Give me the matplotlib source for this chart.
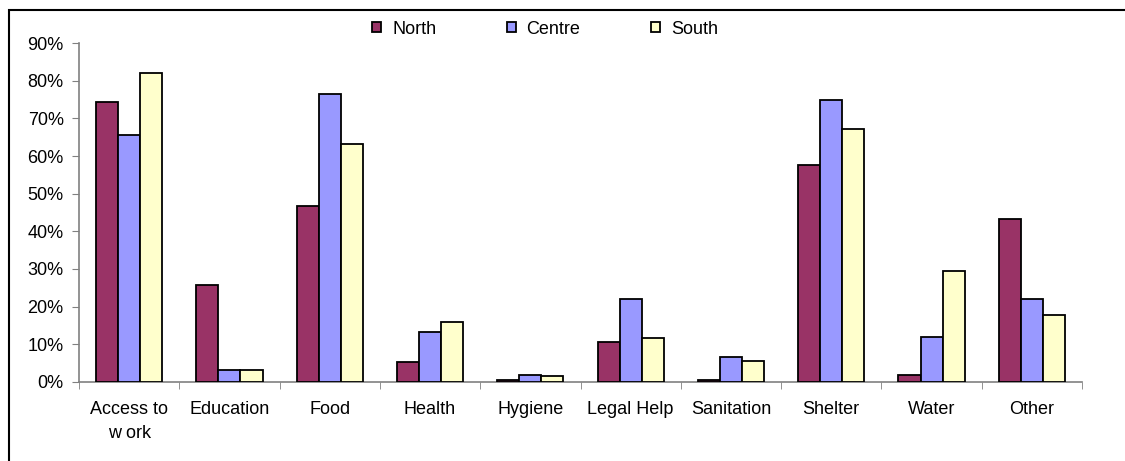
import numpy as np
import matplotlib.pyplot as plt
from matplotlib.patches import Rectangle
from matplotlib.ticker import PercentFormatter

plt.rcParams['font.family'] = ['Liberation Sans', 'DejaVu Sans']

# Datos
categorias = ["Access to\nw ork", "Education", "Food", "Health", "Hygiene",
              "Legal Help", "Sanitation", "Shelter", "Water", "Other"]
north = [74.3, 25.7, 46.8, 5.4, 0.5, 10.7, 0.4, 57.5, 1.9, 43.3]
centre = [65.7, 3.2, 76.4, 13.4, 1.9, 22.1, 6.7, 75.0, 11.9, 22.1]
south = [82.1, 3.2, 63.1, 16.0, 1.5, 11.7, 5.5, 67.2, 29.6, 17.8]

series = [("North", north, "#993366"),
          ("Centre", centre, "#9999FF"),
          ("South", south, "#FFFFCC")]

fig = plt.figure(figsize=(11.25, 4.61), dpi=100)
ax = fig.add_axes([0.0702, 0.1714, 0.8916, 0.7353])

x = np.arange(len(categorias))
ancho = 0.22
for i, (nombre, valores, color) in enumerate(series):
    ax.bar(x + (i - 1) * ancho, np.array(valores) / 100, ancho, color=color,
           edgecolor="black", linewidth=1.3, label=nombre, zorder=3)

ax.set_xlim(-0.5, len(categorias) - 0.5)
ax.set_ylim(0, 0.9)
ax.set_yticks(np.arange(0, 0.91, 0.1))
ax.yaxis.set_major_formatter(PercentFormatter(1.0, decimals=0))
ax.set_xticks(x)
ax.set_xticklabels(categorias, fontsize=13, linespacing=1.5)
ax.set_xticks(np.arange(-0.5, len(categorias)), minor=True)
ax.tick_params(axis="x", which="major", length=0, pad=14)
ax.tick_params(axis="x", which="minor", length=5, color="#808080", direction="out")
ax.tick_params(axis="y", length=5, color="#808080", labelsize=13, pad=6)

for s in ["top", "right"]:
    ax.spines[s].set_visible(False)
for s in ["left", "bottom"]:
    ax.spines[s].set_color("#808080")
    ax.spines[s].set_linewidth(1.2)

fig.legend(loc="center", bbox_to_anchor=(545 / 1125, 1 - 29 / 461), ncol=3,
           frameon=False, fontsize=13, handlelength=0.5, handleheight=0.5,
           handletextpad=0.6, columnspacing=3.9, borderpad=0, borderaxespad=0)

# marco exterior
fig.patches.append(Rectangle((9 / 1125, -0.02), 1.2, 1 - 10 / 461 + 0.02,
                             transform=fig.transFigure, fill=False,
                             edgecolor="black", linewidth=1.5))

fig.savefig("out.png", dpi=100)
